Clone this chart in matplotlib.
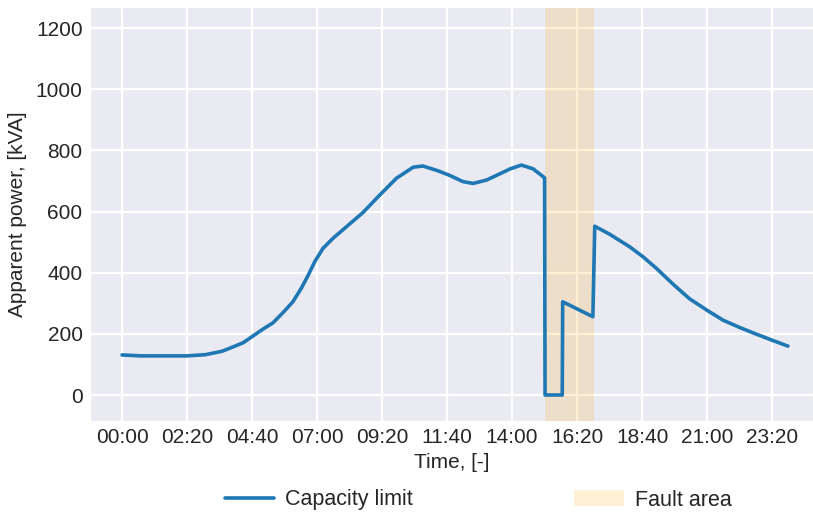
import matplotlib
matplotlib.use('Agg')
import matplotlib.pyplot as plt
import seaborn as sns

sns.set_style('darkgrid')
plt.rcParams['font.family'] = ['Liberation Sans', 'DejaVu Sans']

# capacity limit over the day, minutes after midnight -> kVA
minutes = [0, 40, 140, 180, 215, 232, 261, 282, 304, 325, 347, 368, 386, 401,
           415, 433, 454, 483, 519, 555, 591, 627, 648, 681, 706, 734, 756,
           785, 813, 835, 860, 885, 907, 910, 911, 948, 949, 1014, 1018, 1050,
           1093, 1122, 1151, 1187, 1222, 1259, 1294, 1330, 1366, 1402, 1434]
capacity = [131, 128, 128, 132, 143, 153, 171, 193, 216, 236, 270, 305, 349, 392,
            436, 480, 512, 550, 597, 654, 709, 745, 749, 733, 718, 698, 692,
            703, 723, 739, 752, 740, 714, 710, 0, 0, 305, 256, 552, 526,
            485, 452, 414, 362, 315, 278, 245, 221, 199, 178, 160]

fault_start, fault_end = 910, 1016

tick_minutes = list(range(0, 1440, 140))
tick_labels = ['%02d:%02d' % (m // 60, m % 60) for m in tick_minutes]

fig = plt.figure(figsize=(8.13, 5.15), dpi=100)
ax = fig.add_axes([89.5 / 813, 1 - 420.7 / 515, 1 - 89.5 / 813, (420.7 - 6.7) / 515])

line, = ax.plot(minutes, capacity, color='#1f77b4', lw=2.6, label='Capacity limit')
span = ax.axvspan(fault_start, fault_end, color='orange', alpha=0.17, lw=0, label='Fault area')

ax.set_xlim(-70, 1488)
ax.set_ylim(-84, 1270)
ax.set_xticks(tick_minutes)
ax.set_xticklabels(tick_labels)
ax.set_yticks([0, 200, 400, 600, 800, 1000, 1200])
ax.tick_params(axis='both', length=0, labelsize=15, colors='.15')
ax.tick_params(axis='x', pad=5.5)
ax.tick_params(axis='y', pad=5)
ax.grid(True, color='white', lw=1.6)

ax.set_xlabel('Time, [-]', fontsize=15, color='.15', labelpad=4)
ax.set_ylabel('Apparent power, [kVA]', fontsize=15, color='.15', labelpad=6)

fig.legend(handles=[line, span], loc='center', bbox_to_anchor=(478 / 813, 1 - 500 / 515),
           ncol=2, frameon=False, fontsize=15.5, handlelength=2.3, handletextpad=0.5,
           columnspacing=7.5)

fig.savefig('out.png', dpi=100)
